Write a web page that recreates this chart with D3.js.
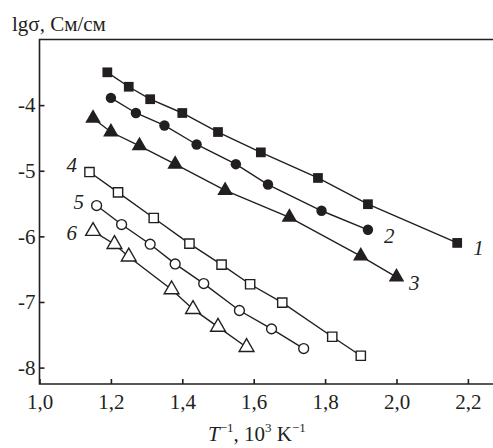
<!DOCTYPE html>
<meta charset="utf-8">
<style>
body { margin: 0; background: #fff; }
svg text { font-family: "Liberation Serif", "Times New Roman", serif; fill: #231f20; }
.axis path, .axis line { stroke: #231f20; stroke-width: 1.6; }
.series { fill: none; stroke: #231f20; stroke-width: 1.4; }
</style>
<body>
<script src="https://cdn.jsdelivr.net/npm/d3@7"></script>
<script>

// data: x = 1/T (10^3 K^-1), y = lg sigma
var s1x = [1.19, 1.25, 1.31, 1.40, 1.50, 1.62, 1.78, 1.92, 2.17];
var s1y = [-3.50, -3.72, -3.91, -4.12, -4.41, -4.72, -5.11, -5.51, -6.10];
var s2x = [1.20, 1.27, 1.35, 1.44, 1.55, 1.64, 1.79, 1.92];
var s2y = [-3.89, -4.12, -4.31, -4.60, -4.90, -5.21, -5.61, -5.90];
var s3x = [1.15, 1.20, 1.28, 1.38, 1.52, 1.70, 1.90, 2.00];
var s3y = [-4.20, -4.41, -4.62, -4.90, -5.30, -5.71, -6.30, -6.62];
var s4x = [1.14, 1.22, 1.32, 1.42, 1.51, 1.59, 1.68, 1.82, 1.90];
var s4y = [-5.02, -5.33, -5.72, -6.11, -6.43, -6.73, -7.01, -7.53, -7.82];
var s5x = [1.16, 1.23, 1.31, 1.38, 1.46, 1.56, 1.65, 1.74];
var s5y = [-5.53, -5.82, -6.12, -6.42, -6.72, -7.13, -7.41, -7.71];
var s6x = [1.15, 1.21, 1.25, 1.37, 1.43, 1.50, 1.58];
var s6y = [-5.92, -6.12, -6.31, -6.81, -7.11, -7.38, -7.69];

var labelNames = ["1", "2", "3", "4", "5", "6"];
var labelX = [2.23, 1.98, 2.05, 1.09, 1.11, 1.09];
var labelY = [-6.18, -6.00, -6.71, -4.91, -5.47, -5.95];

var xTicks = [1.0, 1.2, 1.4, 1.6, 1.8, 2.0, 2.2];
var yTicks = [-4, -5, -6, -7, -8];

var series = [
  {x: s1x, y: s1y, shape: "square", filled: true},
  {x: s2x, y: s2y, shape: "circle", filled: true},
  {x: s3x, y: s3y, shape: "triangle", filled: true},
  {x: s4x, y: s4y, shape: "square", filled: false},
  {x: s5x, y: s5y, shape: "circle", filled: false},
  {x: s6x, y: s6y, shape: "triangle", filled: false}
];

var width = 493, height = 448;
var padL = 39.5, padT = 39.5, axisY = 384;

var svg = d3.select("body").append("svg")
    .attr("width", width)
    .attr("height", height);

var x = d3.scaleLinear().domain([1.0, 2.27]).range([padL, padL + 1.27 * 357]);
var y = d3.scaleLinear().domain([-8.25, -3.0]).range([axisY, padT]);

// frame (right side falls outside the picture)
svg.append("path")
    .attr("d", "M" + (width + 5) + "," + padT + "H" + padL + "V" + axisY + "H" + (width + 5))
    .attr("fill", "none")
    .attr("stroke", "#231f20")
    .attr("stroke-width", 1.6);

var fmt = function(d) { return d.toFixed(1).replace(".", ","); };

var xAxis = svg.append("g").attr("class", "axis")
    .attr("transform", "translate(0," + axisY + ")")
    .call(d3.axisBottom(x).tickValues(xTicks).tickFormat(fmt).tickSizeInner(-5).tickSizeOuter(0).tickPadding(10));
xAxis.select(".domain").remove();
xAxis.selectAll("text").style("font-size", "21px").attr("fill", "#231f20");

var yAxis = svg.append("g").attr("class", "axis")
    .attr("transform", "translate(" + padL + ",0)")
    .call(d3.axisLeft(y).tickValues(yTicks).tickFormat(function(d) { return "-" + Math.abs(d); })
      .tickSizeInner(-5).tickSizeOuter(0).tickPadding(4));
yAxis.select(".domain").remove();
yAxis.selectAll("text").style("font-size", "21px").attr("fill", "#231f20");

var line = d3.line().x(function(d) { return x(d[0]); }).y(function(d) { return y(d[1]); });

var symSize = {square: 95, circle: 85, triangle: 105};
var symType = {square: d3.symbolSquare, circle: d3.symbolCircle, triangle: d3.symbolTriangle};

series.forEach(function(s) {
  var pts = d3.zip(s.x, s.y);
  svg.append("path").attr("class", "series").attr("d", line(pts));
  svg.selectAll(null).data(pts).enter().append("path")
      .attr("transform", function(d) { return "translate(" + x(d[0]) + "," + y(d[1]) + ")"; })
      .attr("d", d3.symbol().type(symType[s.shape]).size(s.filled ? symSize[s.shape] : symSize[s.shape] * 0.9))
      .attr("fill", s.filled ? "#231f20" : "#fff")
      .attr("stroke", "#231f20")
      .attr("stroke-width", s.filled ? 0 : 1.4);
});

svg.selectAll(".lbl").data(labelNames).enter().append("text")
    .attr("class", "lbl")
    .attr("x", function(d, i) { return x(labelX[i]); })
    .attr("y", function(d, i) { return y(labelY[i]) + 7; })
    .attr("text-anchor", "middle")
    .style("font-size", "21px")
    .style("font-style", "italic")
    .text(function(d) { return d; });

// y title
svg.append("text")
    .attr("x", 12)
    .attr("y", 31)
    .style("font-size", "21px")
    .text("lgσ, См/см");

// x title
var xt = svg.append("text")
    .attr("x", 208)
    .attr("y", 441)
    .style("font-size", "21px");
xt.append("tspan").style("font-style", "italic").text("T");
xt.append("tspan").attr("dy", -9).style("font-size", "13px").text("−1");
xt.append("tspan").attr("dy", 9).text(", 10");
xt.append("tspan").attr("dy", -9).style("font-size", "13px").text("3");
xt.append("tspan").attr("dy", 9).text(" K");
xt.append("tspan").attr("dy", -9).style("font-size", "13px").text("−1");

</script>
</body>
